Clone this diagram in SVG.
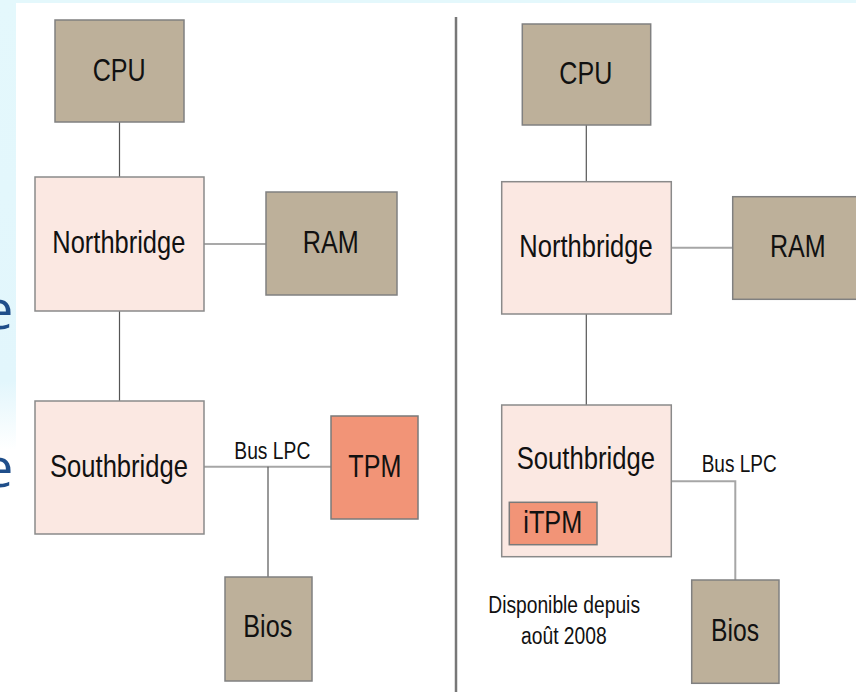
<svg xmlns="http://www.w3.org/2000/svg" width="856" height="692" viewBox="0 0 856 692">
<defs>
<linearGradient id="strip" x1="0" y1="0" x2="0" y2="1">
<stop offset="0" stop-color="#e4f8fc"/>
<stop offset="0.55" stop-color="#e2f6fc"/>
<stop offset="0.65" stop-color="#ffffff"/>
</linearGradient>
<style>
.tan{fill:#bdb09a;stroke:#808080;stroke-width:1.5}
.pink{fill:#fbe8e2;stroke:#8a8a8a;stroke-width:1.5}
.orange{fill:#f29477;stroke:#7a7a7a;stroke-width:1.5}
.lbl{font-family:"Liberation Sans",Arial,sans-serif;font-size:32px;fill:#111}
.sm{font-family:"Liberation Sans",Arial,sans-serif;font-size:23px;fill:#111}
.ln{stroke:#555;stroke-width:1.2;fill:none}
.ln2{stroke:#a6a6a6;stroke-width:2;fill:none}
.bg{font-family:"Open Sans","Liberation Sans",sans-serif;font-size:54px;fill:#1f4e8a}
</style>
</defs>
<rect x="0" y="0" width="856" height="692" fill="#ffffff"/>
<rect x="0" y="0" width="856" height="3" fill="#e4f8fc"/>
<rect x="0" y="0" width="16" height="692" fill="url(#strip)"/>
<text class="bg" x="-17" y="329">e</text>
<text class="bg" x="-17" y="487">e</text>

<g id="connectors">
<line class="ln" x1="119.5" y1="122" x2="119.5" y2="177"/>
<line class="ln" x1="204" y1="244" x2="266" y2="244"/>
<line class="ln" x1="119.5" y1="311" x2="119.5" y2="401"/>
<line class="ln2" x1="204" y1="466.7" x2="331" y2="466.7"/>
<line class="ln" x1="268" y1="466.7" x2="268" y2="577"/>
<line class="ln" x1="586.3" y1="125" x2="586.3" y2="181.7"/>
<line class="ln2" x1="671.3" y1="247.7" x2="732.7" y2="247.7"/>
<line class="ln" x1="586.3" y1="314" x2="586.3" y2="405"/>
<polyline class="ln2" points="671.3,481.3 735.3,481.3 735.3,580"/>
</g>

<g id="divider"><line x1="456" y1="17" x2="456" y2="692" stroke="#777" stroke-width="2.5"/></g>

<g id="cpu-left"><rect class="tan" x="55" y="20" width="129" height="102"/><text class="lbl" x="92.7" y="80.7" textLength="53" lengthAdjust="spacingAndGlyphs">CPU</text></g>
<g id="nb-left"><rect class="pink" x="35" y="177" width="169" height="134"/><text class="lbl" x="52.3" y="253.3" textLength="133" lengthAdjust="spacingAndGlyphs">Northbridge</text></g>
<g id="ram-left"><rect class="tan" x="266" y="192" width="131" height="103"/><text class="lbl" x="302.7" y="253.3" textLength="56" lengthAdjust="spacingAndGlyphs">RAM</text></g>
<g id="sb-left"><rect class="pink" x="35" y="401" width="169" height="133"/><text class="lbl" x="50" y="476.7" textLength="138" lengthAdjust="spacingAndGlyphs">Southbridge</text></g>
<g id="tpm-left"><rect class="orange" x="331" y="416" width="87" height="103"/><text class="lbl" x="348.3" y="476.7" textLength="53" lengthAdjust="spacingAndGlyphs">TPM</text></g>
<g id="bios-left"><rect class="tan" x="225" y="577" width="87" height="104"/><text class="lbl" x="243.3" y="636.7" textLength="49" lengthAdjust="spacingAndGlyphs">Bios</text></g>
<g id="bus-left"><text class="sm" x="234.3" y="459.3" textLength="76" lengthAdjust="spacingAndGlyphs">Bus LPC</text></g>

<g id="cpu-right"><rect class="tan" x="522.3" y="24" width="128.4" height="101"/><text class="lbl" x="559.3" y="84.3" textLength="53" lengthAdjust="spacingAndGlyphs">CPU</text></g>
<g id="nb-right"><rect class="pink" x="501.7" y="181.7" width="169.6" height="132.3"/><text class="lbl" x="519.3" y="256.7" textLength="133.4" lengthAdjust="spacingAndGlyphs">Northbridge</text></g>
<g id="ram-right"><rect class="tan" x="732.7" y="196.7" width="130" height="102.6"/><text class="lbl" x="770" y="256.7" textLength="55.7" lengthAdjust="spacingAndGlyphs">RAM</text></g>
<g id="sb-right"><rect class="pink" x="501.7" y="405" width="169.6" height="151.7"/><text class="lbl" x="516.7" y="469.3" textLength="138.3" lengthAdjust="spacingAndGlyphs">Southbridge</text></g>
<g id="itpm-right"><rect class="orange" x="509.3" y="502.3" width="87.7" height="42.4"/><text class="lbl" x="523.3" y="532.7" textLength="59" lengthAdjust="spacingAndGlyphs">iTPM</text></g>
<g id="bios-right"><rect class="tan" x="691.7" y="580" width="87.3" height="103.3"/><text class="lbl" x="711" y="641" textLength="48" lengthAdjust="spacingAndGlyphs">Bios</text></g>
<g id="bus-right"><text class="sm" x="701.7" y="472.3" textLength="75" lengthAdjust="spacingAndGlyphs">Bus LPC</text></g>
<g id="note"><text class="sm" x="488.3" y="613.3" textLength="151.7" lengthAdjust="spacingAndGlyphs">Disponible depuis</text><text class="sm" x="521" y="644" textLength="85.7" lengthAdjust="spacingAndGlyphs">août 2008</text></g>
</svg>
